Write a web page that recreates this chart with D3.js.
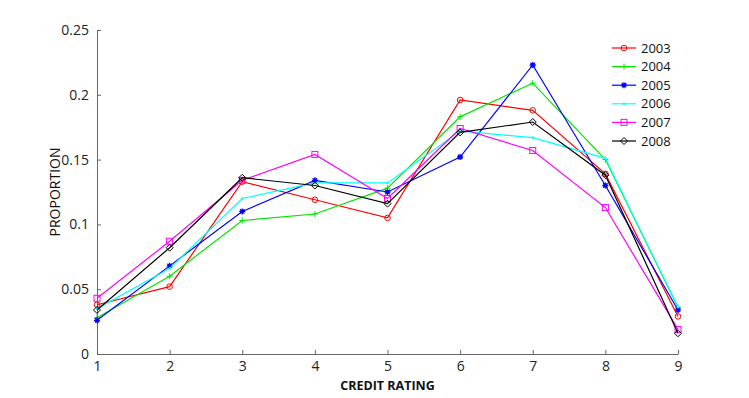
<!DOCTYPE html>
<html>
<head>
<meta charset="utf-8">
<script src="https://cdn.jsdelivr.net/npm/d3@7"></script>
<style>
  body { margin: 0; background: #fff; }
  text { font-family: "Open Sans", "DejaVu Sans", sans-serif; }
</style>
</head>
<body>
<div id="chart"></div>
<script>
// credit rating categories and proportions per year
const ratings = [1, 2, 3, 4, 5, 6, 7, 8, 9];
const years = ["2003", "2004", "2005", "2006", "2007", "2008"];
const s2003 = [0.038, 0.052, 0.133, 0.119, 0.105, 0.196, 0.188, 0.139, 0.029];
const s2004 = [0.028, 0.060, 0.103, 0.108, 0.128, 0.183, 0.209, 0.150, 0.036];
const s2005 = [0.026, 0.068, 0.110, 0.134, 0.125, 0.152, 0.223, 0.130, 0.034];
const s2006 = [0.035, 0.066, 0.120, 0.132, 0.132, 0.172, 0.167, 0.151, 0.036];
const s2007 = [0.043, 0.087, 0.134, 0.154, 0.120, 0.174, 0.157, 0.113, 0.019];
const s2008 = [0.034, 0.082, 0.136, 0.130, 0.116, 0.171, 0.179, 0.138, 0.016];
const yTicks = [0, 0.05, 0.1, 0.15, 0.2, 0.25];
const yTickLabels = ["0", "0.05", "0.1", "0.15", "0.2", "0.25"];

const series = [s2003, s2004, s2005, s2006, s2007, s2008];
const colors = ["#ff0000", "#00e600", "#0000ff", "#00ffff", "#ff00ff", "#000000"];
const markers = ["circle", "plus", "star", "point", "square", "diamond"];

const W = 749, H = 398;
const margin = {top: 30, right: 71, bottom: 44, left: 97};
const width = W - margin.left - margin.right,
  height = H - margin.top - margin.bottom;

const svg = d3.select("#chart").append("svg")
  .attr("width", W).attr("height", H);
const g = svg.append("g")
  .attr("transform", `translate(${margin.left},${margin.top})`);

const x = d3.scaleLinear().domain([1, 9]).range([0, width]);
const y = d3.scaleLinear().domain([0, 0.25]).range([height, 0]);

// axes, ticks pointing inward like matlab
const xAxis = g.append("g")
  .attr("transform", `translate(0,${height})`)
  .call(d3.axisBottom(x).tickValues(ratings).tickFormat(d3.format("d"))
    .tickSizeInner(-4).tickSizeOuter(0).tickPadding(7));
const yAxis = g.append("g")
  .call(d3.axisLeft(y).tickValues(yTicks).tickFormat((d, i) => yTickLabels[i])
    .tickSizeInner(-4).tickSizeOuter(0).tickPadding(8));
[xAxis, yAxis].forEach(a => {
  a.selectAll("path, line").attr("stroke", "#666");
  a.selectAll("text").attr("fill", "#222").style("font-size", "14px");
});

// marker drawer
function drawMarker(sel, type, color) {
  if (type === "circle") {
    sel.append("circle").attr("r", 2.8).attr("fill", "none").attr("stroke", color);
  } else if (type === "square") {
    sel.append("rect").attr("x", -3).attr("y", -3).attr("width", 6).attr("height", 6)
      .attr("fill", "none").attr("stroke", color);
  } else if (type === "diamond") {
    sel.append("path").attr("d", "M0,-3.5L3.5,0L0,3.5L-3.5,0Z")
      .attr("fill", "none").attr("stroke", color);
  } else if (type === "plus") {
    sel.append("path").attr("d", "M-3,0H3M0,-3V3").attr("stroke", color);
  } else if (type === "star") {
    sel.append("path").attr("d", "M-3,0H3M0,-3V3M-2.2,-2.2L2.2,2.2M-2.2,2.2L2.2,-2.2")
      .attr("stroke", color).attr("stroke-width", 1.3);
  } else if (type === "point") {
    sel.append("circle").attr("r", 1.2).attr("fill", color);
  }
}

const line = d3.line().x((d, i) => x(ratings[i])).y(d => y(d));

series.forEach((vals, k) => {
  g.append("path").datum(vals)
    .attr("d", line)
    .attr("fill", "none")
    .attr("stroke", colors[k])
    .attr("stroke-width", 1.2);
  g.selectAll(null).data(vals).join("g")
    .attr("transform", (d, i) => `translate(${x(ratings[i])},${y(d)})`)
    .each(function() { drawMarker(d3.select(this), markers[k], colors[k]); });
});

// axis titles
svg.append("text")
  .attr("x", margin.left + width / 2).attr("y", 390)
  .attr("text-anchor", "middle")
  .style("font-size", "12.5px").style("font-weight", "bold")
  .attr("fill", "#111")
  .text("CREDIT RATING");
svg.append("text")
  .attr("transform", `translate(60,${margin.top + height / 2}) rotate(-90)`)
  .attr("text-anchor", "middle")
  .style("font-size", "14px")
  .attr("fill", "#111")
  .text("PROPORTION");

// legend
const legend = svg.append("g").attr("transform", "translate(612,48)");
years.forEach((yr, k) => {
  const row = legend.append("g").attr("transform", `translate(0,${k * 18.6})`);
  row.append("line").attr("x1", 0).attr("x2", 24).attr("y1", 0).attr("y2", 0)
    .attr("stroke", colors[k]).attr("stroke-width", 1.2);
  const m = row.append("g").attr("transform", "translate(12,0)");
  drawMarker(m, markers[k], colors[k]);
  row.append("text").attr("x", 29).attr("y", 4.5)
    .style("font-size", "13px").attr("fill", "#111").text(yr);
});
</script>
</body>
</html>
